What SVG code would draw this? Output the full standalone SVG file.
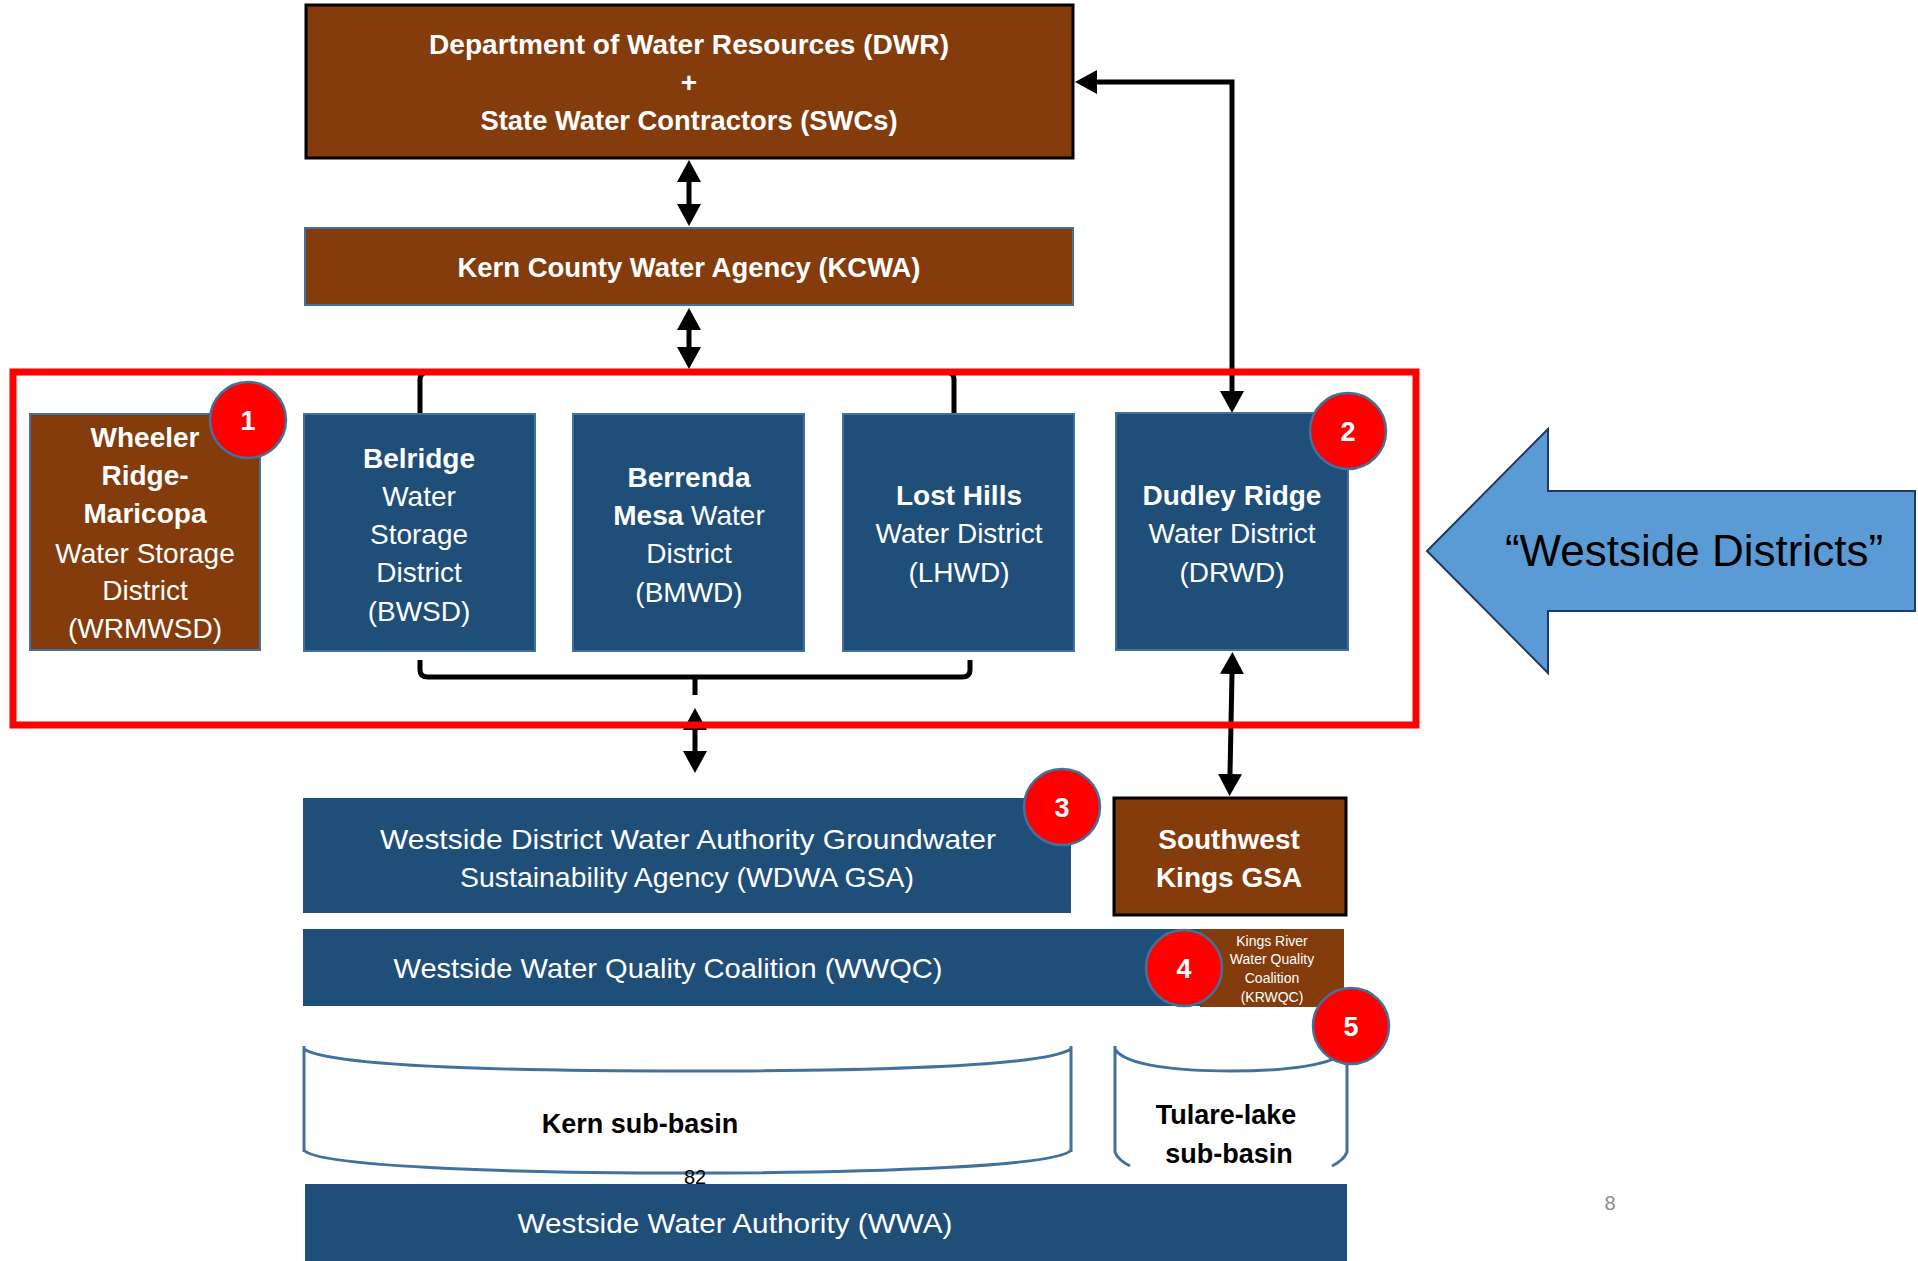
<svg xmlns="http://www.w3.org/2000/svg" width="1918" height="1261" viewBox="0 0 1918 1261">
<style>
.brown{fill:#843C0C}
.blue{fill:#1F4E79}
.bstroke{stroke:#41719C;stroke-width:2}
.t{font-family:"Liberation Sans",Arial,sans-serif;fill:#fff;font-size:28px;text-anchor:middle}
.b{font-weight:bold}
.k{fill:#000}
.conn{fill:none;stroke:#000;stroke-width:5}
.badge circle{fill:#FF0000;stroke:#41719C;stroke-width:2.5}
.badge text{font-family:"Liberation Sans",Arial,sans-serif;font-weight:bold;font-size:27px;fill:#fff;text-anchor:middle}
.basin{fill:none;stroke:#41719C;stroke-width:3}
</style>
<defs>
<marker id="ah" markerUnits="userSpaceOnUse" markerWidth="22" markerHeight="24" refX="0" refY="12" orient="auto-start-reverse" viewBox="0 0 22 24">
<path d="M0,0 L22,12 L0,24 z" fill="#000"/>
</marker>
</defs>
<rect width="1918" height="1261" fill="#fff"/>

<g id="dwr">
<rect x="306" y="5" width="767" height="153" class="brown" stroke="#000" stroke-width="3"/>
<text class="t b" x="689" y="54" textLength="520" lengthAdjust="spacingAndGlyphs">Department of Water Resources (DWR)</text>
<text class="t b" x="689" y="92">+</text>
<text class="t b" x="689" y="130" textLength="417" lengthAdjust="spacingAndGlyphs">State Water Contractors (SWCs)</text>
</g>

<g id="kcwa">
<rect x="305" y="228" width="768" height="77" class="brown bstroke"/>
<text class="t b" x="689" y="277" textLength="463" lengthAdjust="spacingAndGlyphs">Kern County Water Agency (KCWA)</text>
</g>

<g id="connectors">
<path class="conn" d="M420,414 L420,380 Q420,372 428,372 L946,372 Q954,372 954,380 L954,414"/>
<path class="conn" d="M420,660 L420,670 Q420,677 428,677 L962,677 Q970,677 970,670 L970,660"/>
<path class="conn" d="M695,677 L695,695"/>
<path class="conn" d="M689,182 L689,204" marker-start="url(#ah)" marker-end="url(#ah)"/>
<path class="conn" d="M689,330 L689,347" marker-start="url(#ah)" marker-end="url(#ah)"/>
<path class="conn" d="M1097,82 L1232,82 L1232,391" marker-start="url(#ah)" marker-end="url(#ah)"/>
<path class="conn" d="M695,730 L695,751" marker-start="url(#ah)" marker-end="url(#ah)"/>
<path class="conn" d="M1232,674 L1230,774" marker-start="url(#ah)" marker-end="url(#ah)"/>
</g>

<g id="westside-frame">
<rect x="13" y="372" width="1403" height="353" fill="none" stroke="#FF0000" stroke-width="7"/>
</g>

<g id="wrmwsd">
<rect x="30" y="414" width="230" height="236" class="brown bstroke"/>
<text class="t b" x="145" y="447">Wheeler</text>
<text class="t b" x="145" y="485">Ridge-</text>
<text class="t b" x="145" y="523">Maricopa</text>
<text class="t" x="145" y="563">Water Storage</text>
<text class="t" x="145" y="600">District</text>
<text class="t" x="145" y="638">(WRMWSD)</text>
</g>

<g id="bwsd">
<rect x="304" y="414" width="231" height="237" class="blue bstroke"/>
<text class="t b" x="419" y="468">Belridge</text>
<text class="t" x="419" y="506">Water</text>
<text class="t" x="419" y="544">Storage</text>
<text class="t" x="419" y="582">District</text>
<text class="t" x="419" y="621">(BWSD)</text>
</g>

<g id="bmwd">
<rect x="573" y="414" width="231" height="237" class="blue bstroke"/>
<text class="t b" x="689" y="487">Berrenda</text>
<text class="t" x="689" y="525"><tspan class="b">Mesa</tspan> Water</text>
<text class="t" x="689" y="563">District</text>
<text class="t" x="689" y="602">(BMWD)</text>
</g>

<g id="lhwd">
<rect x="843" y="414" width="231" height="237" class="blue bstroke"/>
<text class="t b" x="959" y="505">Lost Hills</text>
<text class="t" x="959" y="543">Water District</text>
<text class="t" x="959" y="582">(LHWD)</text>
</g>

<g id="drwd">
<rect x="1116" y="413" width="232" height="237" class="blue bstroke"/>
<text class="t b" x="1232" y="505">Dudley Ridge</text>
<text class="t" x="1232" y="543">Water District</text>
<text class="t" x="1232" y="582">(DRWD)</text>
</g>

<g id="westside-arrow">
<polygon points="1427,551 1548,429 1548,491 1915,491 1915,611 1548,611 1548,673" fill="#5B9BD5" stroke="#203864" stroke-width="2"/>
<text x="1694" y="566" font-family="Liberation Sans,Arial,sans-serif" font-size="44" text-anchor="middle" fill="#000">“Westside Districts”</text>
</g>

<g id="wdwa-gsa">
<rect x="303" y="798" width="768" height="115" class="blue"/>
<text class="t" x="688" y="849" textLength="616" lengthAdjust="spacingAndGlyphs">Westside District Water Authority Groundwater</text>
<text class="t" x="687" y="887" textLength="454" lengthAdjust="spacingAndGlyphs">Sustainability Agency (WDWA GSA)</text>
</g>

<g id="swk-gsa">
<rect x="1114" y="798" width="232" height="117" class="brown" stroke="#000" stroke-width="3"/>
<text class="t b" x="1229" y="849">Southwest</text>
<text class="t b" x="1229" y="887">Kings GSA</text>
</g>

<g id="wwqc">
<rect x="303" y="929" width="898" height="77" class="blue"/>
<text class="t" x="668" y="978" textLength="549" lengthAdjust="spacingAndGlyphs">Westside Water Quality Coalition (WWQC)</text>
</g>

<g id="krwqc">
<rect x="1200" y="929" width="144" height="78" class="brown"/>
<text class="t" style="font-size:14px" x="1272" y="946">Kings River</text>
<text class="t" style="font-size:14px" x="1272" y="964">Water Quality</text>
<text class="t" style="font-size:14px" x="1272" y="983">Coalition</text>
<text class="t" style="font-size:14px" x="1272" y="1002">(KRWQC)</text>
</g>

<g id="kern-basin">
<path class="basin" d="M304,1046 L304,1152 M1071,1046 L1071,1152 M304,1049 C330,1066 500,1071 688,1071 S1045,1066 1071,1049 M304,1150 C315,1166 500,1173 688,1173 S1060,1166 1071,1150"/>
<text class="t b k" x="640" y="1133" style="font-size:27px">Kern sub-basin</text>
</g>

<g id="tulare-basin">
<path class="basin" d="M1115,1046 L1115,1152 Q1118,1160 1130,1166 M1347,1046 L1347,1152 Q1344,1160 1332,1166 M1115,1049 C1125,1066 1180,1071 1231,1071 S1337,1066 1347,1049"/>
<text class="t b k" x="1226" y="1124" style="font-size:27px">Tulare-lake</text>
<text class="t b k" x="1229" y="1163" style="font-size:27px">sub-basin</text>
</g>

<g id="wwa">
<rect x="305" y="1184" width="1042" height="80" class="blue"/>
<text class="t" x="735" y="1233" textLength="435" lengthAdjust="spacingAndGlyphs">Westside Water Authority (WWA)</text>
</g>

<text x="695" y="1184" font-family="Liberation Sans,Arial,sans-serif" font-size="20" text-anchor="middle" fill="#000">82</text>
<text x="1610" y="1210" font-family="Liberation Sans,Arial,sans-serif" font-size="20" text-anchor="middle" fill="#8C8C8C">8</text>

<g id="badge-1" class="badge"><circle cx="248" cy="420" r="38"/><text x="248" y="430">1</text></g>
<g id="badge-2" class="badge"><circle cx="1348" cy="431" r="38"/><text x="1348" y="441">2</text></g>
<g id="badge-3" class="badge"><circle cx="1062" cy="807" r="38"/><text x="1062" y="817">3</text></g>
<g id="badge-4" class="badge"><circle cx="1184" cy="968" r="38"/><text x="1184" y="978">4</text></g>
<g id="badge-5" class="badge"><circle cx="1351" cy="1026" r="38"/><text x="1351" y="1036">5</text></g>
</svg>
